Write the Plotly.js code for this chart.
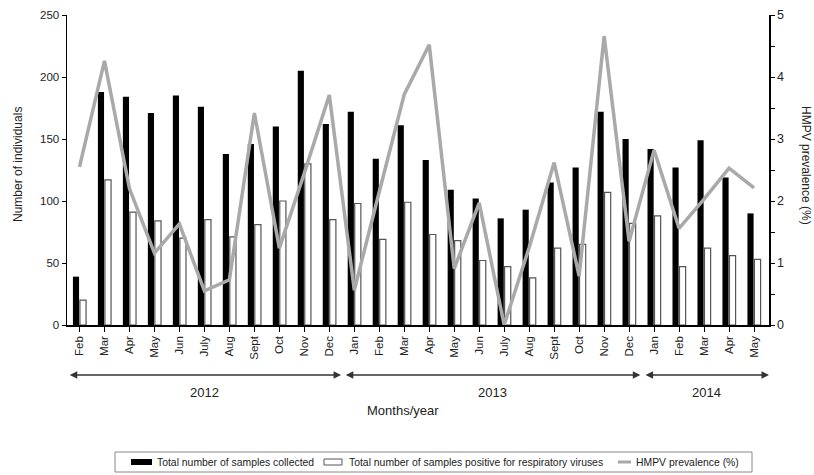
<!DOCTYPE html>
<html>
<head>
<meta charset="utf-8">
<script src="https://cdn.plot.ly/plotly-3.0.1.min.js"></script>
<style>html,body{margin:0;padding:0;background:#fff;}</style>
</head>
<body>
<div id="chart" style="width:814px;height:475px;"></div>
<script>
var months = ["Feb","Mar","Apr","May","Jun","July","Aug","Sept","Oct","Nov","Dec",
              "Jan","Feb","Mar","Apr","May","Jun","July","Aug","Sept","Oct","Nov","Dec",
              "Jan","Feb","Mar","Apr","May"];
var years = ["2012","2012","2012","2012","2012","2012","2012","2012","2012","2012","2012",
             "2013","2013","2013","2013","2013","2013","2013","2013","2013","2013","2013","2013",
             "2014","2014","2014","2014","2014"];
var samplesCollected = [39,188,184,171,185,176,138,146,160,205,162,
                        172,134,161,133,109,102,86,93,115,127,172,150,
                        142,127,149,119,90];
var samplesPositive = [20,117,91,84,70,85,71,81,100,130,85,
                       98,69,99,73,68,52,47,38,62,65,107,82,
                       88,47,62,56,53];
var hmpvPrevalence = [2.55,4.26,2.2,1.16,1.63,0.55,0.73,3.42,1.24,2.45,3.71,
                      0.56,2.15,3.72,4.52,0.91,1.97,0,1.25,2.62,0.79,4.66,1.35,
                      2.82,1.56,2.03,2.53,2.21];
var yearLabels = ["2012","2013","2014"];
var seriesNames = ["Total number of samples collected",
                   "Total number of samples positive for respiratory viruses",
                   "HMPV prevalence (%)"];

var cats = months.map(function(m,i){ return years[i] + "-" + m; });

var sans = "'Liberation Sans', Arial, sans-serif";
var lineColor = "#a9a9a9";

var traces = [
  {type:"bar", x:cats, y:samplesCollected, name:seriesNames[0],
   marker:{color:"#000000", line:{color:"#000000", width:0}}},
  {type:"bar", x:cats, y:samplesPositive, name:seriesNames[1],
   marker:{color:"#ffffff", line:{color:"#555555", width:1.2}}},
  {type:"scatter", mode:"lines", x:cats, y:hmpvPrevalence, yaxis:"y2", name:seriesNames[2],
   line:{color:lineColor, width:3.5}}
];

// geometry helpers (plot area: l=67, r=45, t=15, b=150 on an 814x475 page)
var L = 67, R = 45, T = 15, B = 150, W = 814, H = 475;
var plotW = W - L - R, plotH = H - T - B;
function px(xp){ return (xp - L)/plotW; }
function py(yp){ return (H - B - yp)/plotH; }

var annotations = [];
var shapes = [];

// year bracket arrows, from category indices
var idxStart = {}, idxEnd = {};
years.forEach(function(y,i){ if(!(y in idxStart)) idxStart[y]=i; idxEnd[y]=i; });
var x0 = -0.5, x1 = 27.6;
function frac(v){ return (v - x0)/(x1 - x0); }
var bounds = {
  "2012":[frac(idxStart["2012"]-0.45), frac(idxEnd["2012"]+0.47)],
  "2013":[frac(idxStart["2013"]-0.4), frac(idxEnd["2013"]+0.45)],
  "2014":[frac(idxStart["2014"]-0.4), 1.0]
};
yearLabels.forEach(function(y){
  var b = bounds[y];
  annotations.push({xref:"paper", yref:"paper", x:b[1], y:py(375), ax:-(b[1]-b[0])*plotW, ay:0,
    axref:"pixel", ayref:"pixel", text:"", showarrow:true, arrowhead:2, startarrowhead:2,
    arrowside:"end+start", arrowsize:1, startarrowsize:1, arrowwidth:1.5, arrowcolor:"#333333"});
  annotations.push({xref:"paper", yref:"paper", x:(b[0]+b[1])/2, y:py(392), text:y, showarrow:false,
    font:{family:sans, size:13, color:"#222"}, xanchor:"center", yanchor:"middle"});
});
annotations.push({xref:"paper", yref:"paper", x:px(403), y:py(410), text:"Months/year", showarrow:false,
  font:{family:sans, size:13, color:"#222"}, xanchor:"center", yanchor:"middle"});
annotations.push({xref:"paper", yref:"paper", x:px(18), y:py(165), text:"Number of individuals", showarrow:false,
  textangle:-90, font:{family:sans, size:12, color:"#222"}, xanchor:"center", yanchor:"middle"});
annotations.push({xref:"paper", yref:"paper", x:px(806), y:py(165), text:"HMPV prevalence (%)", showarrow:false,
  textangle:90, font:{family:sans, size:12, color:"#222"}, xanchor:"center", yanchor:"middle"});

// custom legend box
var legY = 462;
shapes.push({type:"rect", xref:"paper", yref:"paper", x0:px(115), x1:px(752), y0:py(452), y1:py(472),
  line:{color:"#888888", width:1}, fillcolor:"rgba(0,0,0,0)"});
shapes.push({type:"rect", xref:"paper", yref:"paper", x0:px(131), x1:px(152), y0:py(legY-3), y1:py(legY+3),
  line:{color:"#000", width:0}, fillcolor:"#000"});
shapes.push({type:"rect", xref:"paper", yref:"paper", x0:px(324), x1:px(342), y0:py(legY-3), y1:py(legY+3),
  line:{color:"#555", width:1}, fillcolor:"#fff"});
shapes.push({type:"line", xref:"paper", yref:"paper", x0:px(618), x1:px(631), y0:py(legY), y1:py(legY),
  line:{color:lineColor, width:3}});
var legTextX = [156, 348, 635];
seriesNames.forEach(function(n,i){
  annotations.push({xref:"paper", yref:"paper", x:px(legTextX[i]), y:py(legY), text:n, showarrow:false,
    font:{family:sans, size:10.4, color:"#222"}, xanchor:"left", yanchor:"middle", xshift:-1});
});

var layout = {
  width:W, height:H,
  margin:{l:L, r:R, t:T, b:B},
  paper_bgcolor:"#ffffff", plot_bgcolor:"#ffffff",
  barmode:"group", bargap:0.44, bargroupgap:0.12,
  showlegend:false,
  xaxis:{type:"category", range:[x0, x1], tickmode:"array", tickvals:cats, ticktext:months,
         tickangle:-90, ticks:"outside", ticklen:5, tickcolor:"#000", tickwidth:1,
         showline:true, linecolor:"#000", linewidth:1.5, showgrid:false, zeroline:false,
         tickfont:{family:sans, size:11.5, color:"#222"}},
  yaxis:{range:[0,250], dtick:50, ticks:"outside", ticklen:4, tickcolor:"#000",
         showline:true, linecolor:"#000", linewidth:1.5, showgrid:false, zeroline:false,
         tickfont:{family:sans, size:11.5, color:"#222"}},
  yaxis2:{range:[0,5], dtick:1, overlaying:"y", side:"right", ticks:"outside", ticklen:4, tickcolor:"#000",
          showline:true, linecolor:"#000", linewidth:1.5, showgrid:false, zeroline:false,
          minor:{dtick:0.5, ticks:"outside", ticklen:4, tickcolor:"#000", showgrid:false},
          tickfont:{family:sans, size:12.5, color:"#222"}},
  annotations:annotations,
  shapes:shapes
};

Plotly.newPlot("chart", traces, layout, {displayModeBar:false, staticPlot:true});
</script>
</body>
</html>
